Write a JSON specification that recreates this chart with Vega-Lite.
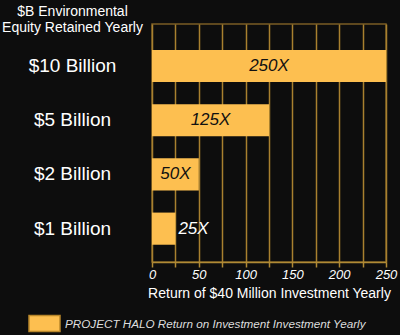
{
  "$schema": "https://vega.github.io/schema/vega-lite/v6.json",
  "width": 234,
  "height": 238,
  "autosize": "none",
  "padding": {"left": 152, "top": 24, "right": 14, "bottom": 73},
  "background": "#0d0d0d",
  "config": {
    "font": "Liberation Sans",
    "view": {"stroke": "#7a5c24", "strokeWidth": 1.5}
  },
  "data": {
    "values": [
      {"cat": "$10 Billion", "value": 250, "label": "250X", "series": "PROJECT HALO Return on Investment Investment Yearly"},
      {"cat": "$5 Billion", "value": 125, "label": "125X", "series": "PROJECT HALO Return on Investment Investment Yearly"},
      {"cat": "$2 Billion", "value": 50, "label": "50X", "series": "PROJECT HALO Return on Investment Investment Yearly"},
      {"cat": "$1 Billion", "value": 25, "label": "25X", "series": "PROJECT HALO Return on Investment Investment Yearly"}
    ]
  },
  "encoding": {
    "y": {
      "field": "cat",
      "type": "nominal",
      "sort": ["$10 Billion", "$5 Billion", "$2 Billion", "$1 Billion"],
      "scale": {"paddingInner": 0.407, "paddingOuter": 0.398, "align": 0.6},
      "axis": {
        "ticks": false,
        "domain": false,
        "grid": false,
        "labelAlign": "center",
        "labelBaseline": "middle",
        "labelPadding": 80,
        "labelFontSize": 19,
        "labelColor": "#ffffff",
        "title": ["$B Environmental", "Equity Retained Yearly"],
        "titleAngle": 0,
        "titleAlign": "center",
        "titleBaseline": "alphabetic",
        "titleX": -80,
        "titleY": -9,
        "titleLineHeight": 16,
        "titleFontSize": 14,
        "titleFontWeight": "normal",
        "titleColor": "#ffffff"
      }
    }
  },
  "layer": [
    {
      "mark": {"type": "bar"},
      "encoding": {
        "x": {
          "field": "value",
          "type": "quantitative",
          "scale": {"domain": [0, 250], "nice": false},
          "axis": {
            "values": [0, 25, 50, 75, 100, 125, 150, 175, 200, 225, 250],
            "labelExpr": "datum.value % 50 === 0 ? datum.label : ''",
            "grid": true,
            "gridColor": "#a8802f",
            "gridWidth": 1.5,
            "gridOpacity": 1,
            "domainColor": "#b08a35",
            "domainWidth": 1.5,
            "tickColor": "#b08a35",
            "tickWidth": 1.5,
            "tickSize": 5,
            "labelFlush": false,
            "labelFontStyle": "italic",
            "labelFontSize": 13,
            "labelColor": "#ffffff",
            "labelPadding": 1,
            "title": "Return of $40 Million Investment Yearly",
            "titleFontSize": 14,
            "titleFontWeight": "normal",
            "titleColor": "#ffffff",
            "titlePadding": 5
          }
        },
        "color": {
          "field": "series",
          "type": "nominal",
          "scale": {"range": ["#FDBF50"]},
          "legend": {
            "orient": "none",
            "legendX": -124,
            "legendY": 283,
            "title": null,
            "padding": 0,
            "symbolType": "M-1,-0.52H1V0.52H-1Z",
            "symbolSize": 961,
            "symbolStrokeColor": "#b8862a",
            "symbolStrokeWidth": 1.5,
            "symbolOpacity": 1,
            "labelFontStyle": "italic",
            "labelFontSize": 11.7,
            "labelColor": "#dddddd",
            "labelOffset": 4,
            "labelLimit": 400
          }
        }
      }
    },
    {
      "transform": [{"filter": "datum.value >= 50"}],
      "mark": {"type": "text", "fontStyle": "italic", "fontSize": 17, "color": "#111111", "baseline": "middle"},
      "encoding": {
        "x": {"field": "value", "type": "quantitative", "scale": {"domain": [0, 500], "nice": false}, "axis": null},
        "text": {"field": "label"}
      }
    },
    {
      "transform": [{"filter": "datum.value < 50"}],
      "mark": {"type": "text", "fontStyle": "italic", "fontSize": 17, "color": "#ffffff", "align": "left", "dx": 3, "baseline": "middle"},
      "encoding": {
        "x": {"field": "value", "type": "quantitative", "scale": {"domain": [0, 250], "nice": false}, "axis": null},
        "text": {"field": "label"}
      }
    }
  ],
  "resolve": {"scale": {"x": "independent"}}
}
